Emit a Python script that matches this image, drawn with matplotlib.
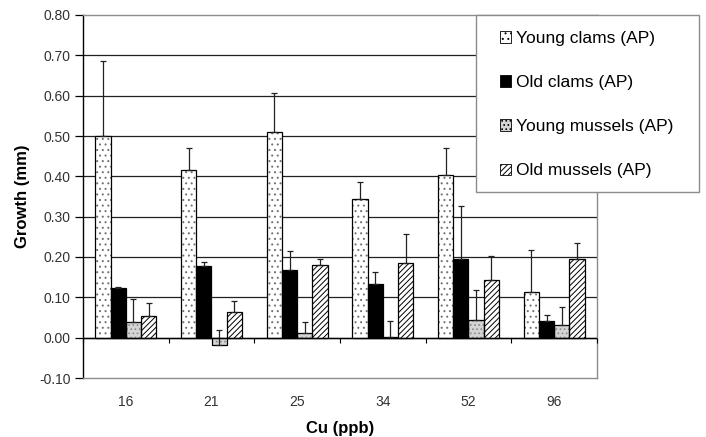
import numpy as np
import matplotlib
matplotlib.use("Agg")
import matplotlib.pyplot as plt
from matplotlib.patches import Rectangle, Patch

plt.rcParams['font.family'] = ['Liberation Sans', 'DejaVu Sans']
plt.rcParams['hatch.linewidth'] = 0.7

categories = ["16", "21", "25", "34", "52", "96"]
series = ["Young clams (AP)", "Old clams (AP)", "Young mussels (AP)", "Old mussels (AP)"]

young_clams = [0.500, 0.415, 0.511, 0.344, 0.403, 0.112]
old_clams = [0.122, 0.177, 0.167, 0.134, 0.194, 0.042]
young_mussels = [0.040, -0.018, 0.012, 0.002, 0.045, 0.032]
old_mussels = [0.053, 0.063, 0.179, 0.184, 0.144, 0.194]

young_clams_err = [0.187, 0.056, 0.095, 0.042, 0.067, 0.105]
old_clams_err = [0.003, 0.011, 0.047, 0.030, 0.133, 0.013]
young_mussels_err = [0.055, 0.038, 0.027, 0.040, 0.073, 0.044]
old_mussels_err = [0.033, 0.027, 0.015, 0.073, 0.059, 0.041]

values = [young_clams, old_clams, young_mussels, old_mussels]
errors = [young_clams_err, old_clams_err, young_mussels_err, old_mussels_err]

# face colour, hatch, hatch colour
styles = [
    ("white", "...", "#707070"),
    ("black", "", "black"),
    ("#d4d4d4", "....", "#8a8a8a"),
    ("white", "//////", "black"),
]

fig = plt.figure(figsize=(7.06, 4.37), dpi=100)
ax = fig.add_axes([83 / 706, 1 - 378 / 437, (597 - 83) / 706, (378 - 15) / 437])

x = np.arange(len(categories))
width = 0.178

for k, (vals, errs, (fc, hatch, hc)) in enumerate(zip(values, errors, styles)):
    pos = x + (k - 1.5) * width
    vals = np.array(vals)
    # hatch layer
    ax.bar(pos, vals, width, color=fc, hatch=hatch, edgecolor=hc, linewidth=0, zorder=3)
    # outline layer
    ax.bar(pos, vals, width, fill=False, edgecolor="black", linewidth=0.9, zorder=4)
    ax.errorbar(pos, vals, yerr=[np.zeros_like(vals), np.array(errs)], fmt="none",
                ecolor="#222222", elinewidth=0.9, capsize=2.5, capthick=0.9, zorder=5)

ax.set_xlim(-0.5, len(categories) - 0.5)
ax.set_ylim(-0.10, 0.80)
yt = np.round(np.arange(-0.10, 0.801, 0.10), 2)
ax.set_yticks(yt)
ax.set_yticklabels([f"{v:.2f}" for v in yt])
for v in yt[1:-1]:
    ax.axhline(v, color="#202020", linewidth=0.9, zorder=1)
ax.axhline(0, color="black", linewidth=1.0, zorder=6)

# category boundary ticks on the zero line
bounds = np.arange(len(categories) + 1) - 0.5
ax.vlines(bounds, -0.012, 0, color="black", linewidth=0.8, zorder=6, clip_on=False)

ax.set_xticks(x)
ax.set_xticklabels(categories)
ax.tick_params(axis="x", length=0, pad=12, labelsize=10, labelcolor="#333333")
ax.tick_params(axis="y", direction="out", length=6, width=0.9, labelsize=10,
               labelcolor="#333333", pad=3)

for side in ["top", "right", "bottom"]:
    ax.spines[side].set_color("#8c8c8c")
    ax.spines[side].set_linewidth(1.0)
ax.spines["left"].set_color("black")
ax.spines["left"].set_linewidth(1.0)

ax.set_xlabel("Cu (ppb)", fontsize=12, fontweight="bold", labelpad=9)
ax.set_ylabel("Growth (mm)", fontsize=12, fontweight="bold")
ax.yaxis.set_label_coords(-0.103, 0.5)

# legend box
box = Rectangle((476 / 706, 1 - 192 / 437), (699 - 476) / 706, (192 - 15) / 437,
                transform=fig.transFigure, facecolor="white", edgecolor="#8c8c8c",
                linewidth=1.0, zorder=10)
fig.patches.append(box)

handles = []
for (fc, hatch, hc) in styles:
    handles.append(Patch(facecolor=fc, hatch=hatch, edgecolor="black", linewidth=0.6))
leg = fig.legend(handles, series, loc="upper left",
                 bbox_to_anchor=(500 / 706, 1 - 31 / 437), bbox_transform=fig.transFigure,
                 frameon=False, fontsize=12.5, handlelength=0.65, handleheight=0.65,
                 handletextpad=0.3, labelspacing=1.68, borderpad=0, borderaxespad=0)
leg.set_zorder(11)

fig.savefig("out.png", dpi=100)
